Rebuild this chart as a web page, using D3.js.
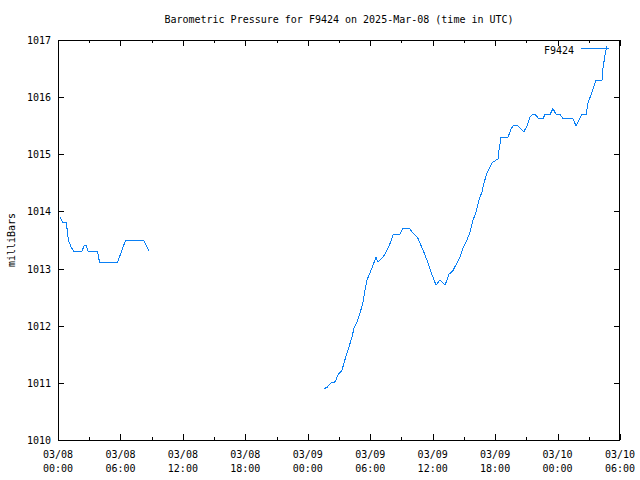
<!DOCTYPE html>
<html>
<head>
<meta charset="utf-8">
<script src="https://cdn.jsdelivr.net/npm/d3@7"></script>
<style>
body { margin: 0; background: #fff; }
text { font-family: "DejaVu Sans Mono", monospace; font-size: 10px; fill: #000; }
</style>
</head>
<body>
<svg id="chart" width="640" height="480"></svg>
<script>
// ---- data (hours since 2025-03-08 00:00 UTC, pressure in mbar) ----
const title = "Barometric Pressure for F9424 on 2025-Mar-08 (time in UTC)";
const seriesName = "F9424";
const yLabel = "milliBars";
const hours = [
  0.2, 0.5, 0.8, 1.0, 1.2, 1.5, 2.3, 2.5, 2.7, 2.9, 3.8, 4.0, 5.7, 5.9, 6.1, 6.3, 6.5, 8.2, 8.5, 8.75,
  null,
  25.56, 25.85, 26.23, 26.52, 26.71, 26.90, 27.29, 27.48, 27.77, 27.96, 28.25, 28.44, 28.73, 29.02,
  29.31, 29.50, 29.69, 30.17, 30.56, 30.75, 31.23, 31.61, 32.00, 32.19, 32.86, 33.15, 33.73, 34.11,
  34.59, 34.98, 35.26, 35.55, 35.94, 36.32, 36.71, 37.19, 37.57, 37.96, 38.34, 38.63, 38.92, 39.30,
  39.59, 39.88, 40.17, 40.45, 40.74, 40.93, 41.22, 41.51, 41.70, 42.28, 42.38, 42.57, 43.24, 43.53,
  43.72, 44.20, 44.59, 44.78, 45.07, 45.35, 45.64, 45.83, 46.22, 46.60, 46.80, 47.28, 47.56, 47.85,
  48.24, 48.53, 49.49, 49.77, 50.35, 50.74, 50.93, 51.31, 51.70, 52.27, 52.37, 52.56, 52.75
];
const pressure = [
  1013.9, 1013.8, 1013.8, 1013.5, 1013.4, 1013.3, 1013.3, 1013.4, 1013.4, 1013.3, 1013.3, 1013.1, 1013.1, 1013.2, 1013.3, 1013.4, 1013.5, 1013.5, 1013.4, 1013.3,
  null,
  1010.9, 1010.92, 1011.0, 1011.0, 1011.05, 1011.14, 1011.22, 1011.35, 1011.52, 1011.63, 1011.80, 1011.96, 1012.06, 1012.22,
  1012.41, 1012.62, 1012.80, 1013.01, 1013.20, 1013.11, 1013.20, 1013.32, 1013.48, 1013.59, 1013.60, 1013.71, 1013.71, 1013.62,
  1013.53, 1013.36, 1013.24, 1013.10, 1012.89, 1012.71, 1012.80, 1012.71, 1012.90, 1012.97, 1013.10, 1013.20, 1013.36, 1013.50,
  1013.64, 1013.85, 1013.99, 1014.20, 1014.34, 1014.50, 1014.67, 1014.78, 1014.85, 1014.92, 1015.08, 1015.30, 1015.30, 1015.44,
  1015.50, 1015.50, 1015.42, 1015.40, 1015.50, 1015.65, 1015.70, 1015.70, 1015.62, 1015.62, 1015.70, 1015.70, 1015.80, 1015.70,
  1015.70, 1015.62, 1015.62, 1015.50, 1015.70, 1015.70, 1015.90, 1016.09, 1016.30, 1016.30, 1016.51, 1016.74, 1016.90
];
const yTicks = [1010, 1011, 1012, 1013, 1014, 1015, 1016, 1017];
const xTickHours = [0, 6, 12, 18, 24, 30, 36, 42, 48, 54];
const xMinorHours = [3, 9, 15, 21, 27, 33, 39, 45, 51];

// ---- layout ----
const svg = d3.select("#chart");
const L = 58, R = 620, T = 40, B = 440;
const t0 = Date.UTC(2025, 2, 8, 0, 0);
const toDate = h => new Date(t0 + h * 3600e3);

const x = d3.scaleUtc().domain([toDate(0), toDate(54)]).range([L, R]);
const y = d3.scaleLinear().domain([1010, 1017]).range([B, T]);

const data = hours.map((h, i) => ({ t: h == null ? null : toDate(h), v: pressure[i] }));

// title
svg.append("text").attr("x", (L + R) / 2).attr("y", 23).attr("text-anchor", "middle").text(title);

// y label
svg.append("text").attr("transform", "translate(15,240) rotate(-90)").attr("text-anchor", "middle").text(yLabel);

// axes via d3.axis (ticks inward, mirrored)
const fmtDay = d3.utcFormat("%m/%d"), fmtTime = d3.utcFormat("%H:%M");
const xb = svg.append("g").attr("transform", `translate(0,${B})`)
  .call(d3.axisTop(x).tickValues(xTickHours.map(toDate)).tickSize(6).tickFormat(""));
const xbm = svg.append("g").attr("transform", `translate(0,${B})`)
  .call(d3.axisTop(x).tickValues(xMinorHours.map(toDate)).tickSize(3).tickFormat(""));
const xt = svg.append("g").attr("transform", `translate(0,${T})`)
  .call(d3.axisBottom(x).tickValues(xTickHours.map(toDate)).tickSize(6).tickFormat(""));
const xtm = svg.append("g").attr("transform", `translate(0,${T})`)
  .call(d3.axisBottom(x).tickValues(xMinorHours.map(toDate)).tickSize(3).tickFormat(""));
const yl = svg.append("g").attr("transform", `translate(${L},0)`)
  .call(d3.axisRight(y).tickValues(yTicks).tickSize(6).tickFormat(""));
const yr = svg.append("g").attr("transform", `translate(${R},0)`)
  .call(d3.axisLeft(y).tickValues(yTicks).tickSize(6).tickFormat(""));
[xb, xbm, xt, xtm, yl, yr].forEach(g => {
  g.select(".domain").remove();
  g.selectAll("line").attr("stroke", "#000").attr("shape-rendering", "crispEdges");
});

// x tick labels (two lines)
const xl = svg.append("g");
xTickHours.forEach(h => {
  const d = toDate(h);
  const t = xl.append("text").attr("x", x(d)).attr("text-anchor", "middle");
  t.append("tspan").attr("x", x(d)).attr("y", 458).text(fmtDay(d));
  t.append("tspan").attr("x", x(d)).attr("y", 472).text(fmtTime(d));
});
// y tick labels
yTicks.forEach(v => {
  svg.append("text").attr("x", 51).attr("y", y(v) + 4).attr("text-anchor", "end").text(v);
});

// border
svg.append("rect").attr("x", L + 0.5).attr("y", T + 0.5).attr("width", R - L - 1).attr("height", B - T)
  .attr("fill", "none").attr("stroke", "#000").attr("shape-rendering", "crispEdges");

// line
const line = d3.line().defined(d => d.t != null && d.v != null).x(d => x(d.t)).y(d => y(d.v));
const color = "#0a80f5";
svg.append("path").datum(data).attr("d", line).attr("fill", "none").attr("stroke", color)
  .attr("stroke-width", 1).attr("shape-rendering", "crispEdges");

// legend
svg.append("text").attr("x", 574).attr("y", 54).attr("text-anchor", "end").text(seriesName);
svg.append("line").attr("x1", 581).attr("x2", 609).attr("y1", 48.5).attr("y2", 48.5)
  .attr("stroke", color).attr("stroke-width", 1).attr("shape-rendering", "crispEdges");
</script>
</body>
</html>
